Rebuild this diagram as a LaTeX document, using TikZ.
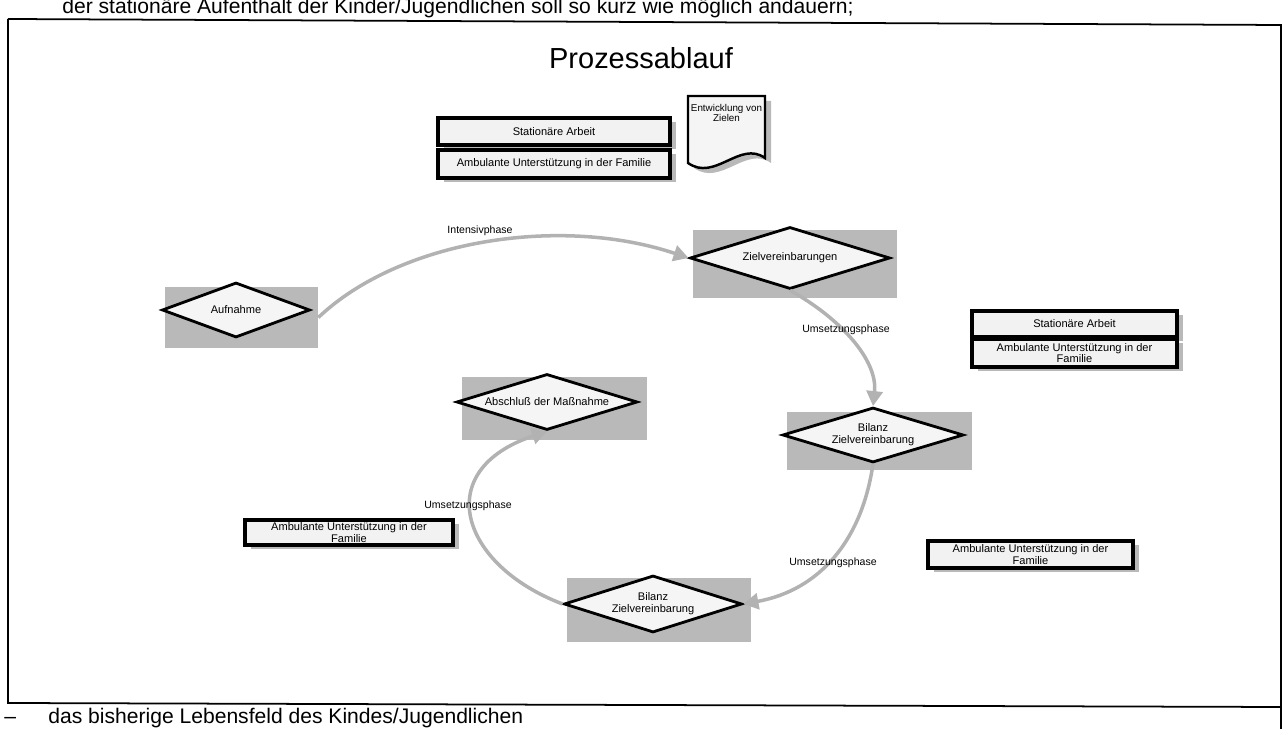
\documentclass[tikz,border=0pt]{standalone}
\usepackage{fontspec}
\setmainfont{Liberation Sans}
\usetikzlibrary{arrows.meta,shapes.geometric,shadows}

\tikzset{
  phase/.style={draw=black,line width=1.6pt,fill=gray!8,shape=diamond,shape aspect=3.3,inner sep=0pt,
    font=\fontsize{6.3}{6.8}\selectfont,align=center},
  phasebg/.style={fill=gray!55,draw=none,inner sep=0pt},
  infobox/.style={draw=black,line width=1.8pt,fill=gray!10,inner sep=0pt,
    font=\fontsize{6.3}{6.6}\selectfont,align=center,
    general shadow={fill=gray!55,shadow xshift=1.1mm,shadow yshift=-0.8mm}},
  flow/.style={draw=gray!60,line width=2pt,-{Triangle[length=3mm,width=3.2mm]}},
  flowlabel/.style={font=\fontsize{6}{7}\selectfont,inner sep=1pt},
  pagetext/.style={anchor=base west,inner sep=0pt,font=\fontsize{12}{14}\selectfont}
}

\begin{document}
\begin{tikzpicture}[x=0.2mm,y=-0.2mm]
\useasboundingbox (0,0) rectangle (1287,729);
\clip (0,0) rectangle (1287,729);
% text of the page, cut by the scan
\node[pagetext] (toptext) at (62,14) {der station\"are Aufenthalt der Kinder/Jugendlichen soll so kurz wie m\"oglich andauern;};
\node[pagetext] (botdash) at (4,724) {--};
\node[pagetext] (bottext) at (48,724) {das bisherige Lebensfeld des Kindes/Jugendlichen};
% frame
\draw[line width=1pt] (8,19) -- (1281,25) -- (1281,729);
\draw[line width=1pt] (8,19) -- (8,703) -- (1281,707);
\node[font=\fontsize{16.5}{18}\selectfont] (title) at (641,58) {Prozessablauf};

% boxes at the top
\node[infobox,minimum width=46.4mm,minimum height=5.4mm] (stattop) at (554,131.5) {Station\"are Arbeit};
\node[infobox,minimum width=46.4mm,minimum height=5.6mm] (ambtop) at (554,164) {Ambulante Unterst\"utzung in der Familie};
\begin{scope}[shift={(6,5)}]
\fill[gray!55] (688,96) -- (765,96) -- (765,158) .. controls (740,140) and (715,182) .. (688,163) -- cycle;
\end{scope}
\draw[line width=1.4pt,fill=gray!8] (688,96) -- (765,96) -- (765,158) .. controls (740,140) and (715,182) .. (688,163) -- cycle;
\node[font=\fontsize{5.6}{6.2}\selectfont,align=center] (zieledoc) at (726.5,113) {Entwicklung von\\Zielen};

% phases
\node[phasebg,minimum width=30.6mm,minimum height=12.2mm] (aufnahmebg) at (241.5,317.5) {};
\node[phase,minimum width=29.6mm,minimum height=11mm] (aufnahme) at (236,310) {Aufnahme};
\node[phasebg,minimum width=40.8mm,minimum height=13.6mm] (zielbg) at (795,264) {};
\node[phase,minimum width=40mm,minimum height=12.4mm] (ziel) at (790,258) {Zielvereinbarungen};
\node[phasebg,minimum width=37mm,minimum height=11.6mm] (bilanzrightbg) at (879.5,441) {};
\node[phase,minimum width=36.2mm,minimum height=11mm] (bilanzright) at (873,435) {Bilanz\\Zielvereinbarung};
\node[phasebg,minimum width=37mm,minimum height=12.6mm] (abschlussbg) at (554.5,408.5) {};
\node[phase,minimum width=36.2mm,minimum height=11.2mm] (abschluss) at (547,402) {Abschlu\ss{} der Ma\ss{}nahme};
\node[phasebg,minimum width=36.8mm,minimum height=12.8mm] (bilanzbottombg) at (659,610) {};
\node[phase,minimum width=35.6mm,minimum height=11.4mm] (bilanzbottom) at (653,604) {Bilanz\\Zielvereinbarung};

% boxes at the side
\node[infobox,minimum width=41mm,minimum height=5.2mm] (statright) at (1074.5,324) {Station\"are Arbeit};
\node[infobox,minimum width=41mm,minimum height=5.6mm] (ambright) at (1074.5,353) {Ambulante Unterst\"utzung in der\\Familie};
\node[infobox,minimum width=41.6mm,minimum height=5mm] (ambleft) at (349,532.5) {Ambulante Unterst\"utzung in der\\Familie};
\node[infobox,minimum width=41mm,minimum height=5.4mm] (ambbottom) at (1030.5,554.5) {Ambulante Unterst\"utzung in der\\Familie};

% flow
\draw[flow] (aufnahmebg.east) .. controls (400,240) and (560,215) .. (ziel.west);
\draw[flow] (ziel.south) .. controls (840,318) and (878,360) .. (bilanzright.north);
\draw[flow] (bilanzright.south) .. controls (862,540) and (820,590) .. (bilanzbottom.east);
\draw[flow] (bilanzbottom.west) .. controls (460,565) and (430,470) .. (abschluss.south);
\node[flowlabel] (intensiv) at (480,231) {Intensivphase};
\node[flowlabel] (umsetzA) at (846,330) {Umsetzungsphase};
\node[flowlabel] (umsetzB) at (833,563) {Umsetzungsphase};
\node[flowlabel] (umsetzC) at (468,506) {Umsetzungsphase};
\end{tikzpicture}
\end{document}
